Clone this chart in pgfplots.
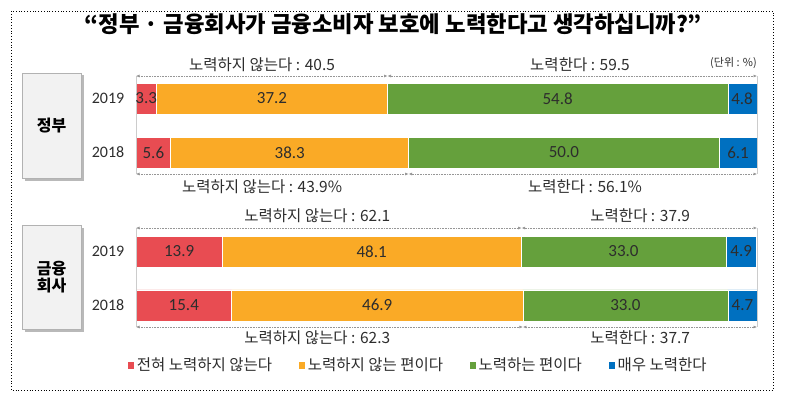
\documentclass[border=0pt]{standalone}
\usepackage{pgfplots}
\pgfplotsset{compat=1.18}
\usepackage{pgfplotstable}
\usepackage{fontspec}
\setmainfont{Noto Sans CJK KR}
\newfontfamily\num{Carlito}
\usetikzlibrary{arrows.meta,shadows}
\definecolor{cRed}{RGB}{232,76,82}
\definecolor{cOra}{RGB}{250,170,38}
\definecolor{cGre}{RGB}{101,160,60}
\definecolor{cBlu}{RGB}{0,112,192}
\definecolor{txt}{RGB}{45,45,45}
\definecolor{dim}{RGB}{150,150,150}

\pgfplotstableread{
y red orange green blue
98.5 3.3 37.2 54.8 4.8
152.5 5.6 38.3 50.0 6.1
251.5 13.9 48.1 33.0 4.9
305.3 15.4 46.9 33.0 4.7
}\data

\pgfplotstableread{
x y lab
1.65 98.5 3.3
21.9 98.5 37.2
67.9 98.5 54.8
97.6 98.5 4.8
2.8 152.5 5.6
24.75 152.5 38.3
68.9 152.5 50.0
96.95 152.5 6.1
6.95 251.5 13.9
37.95 251.5 48.1
78.5 251.5 33.0
97.45 251.5 4.9
7.7 305.3 15.4
38.85 305.3 46.9
78.8 305.3 33.0
97.65 305.3 4.7
}\labs

\pgfplotsset{common/.style={
  at={(136pt,-398pt)}, anchor=south west,
  scale only axis, width=621pt, height=398pt,
  xmin=0, xmax=100, ymin=0, ymax=398, y dir=reverse,
  hide axis, clip=false}}

\begin{document}
\begin{tikzpicture}
\path (0,0) rectangle (786pt,-398pt);
\draw[dotted, line width=0.8pt] (11pt,-11pt) rectangle (773pt,-390pt);
\node[font=\bfseries\fontsize{22.3}{26}\selectfont] at (393pt,-24pt) {“정부 · 금융회사가 금융소비자 보호에 노력한다고 생각하십니까?”};

\tikzset{gbox/.style={draw=gray!60, fill=gray!10, drop shadow={shadow xshift=2.5pt, shadow yshift=-2.5pt, fill=gray!55, opacity=1}}}
\draw[gbox] (22pt,-73pt) rectangle (81pt,-178pt);
\node[font=\bfseries\fontsize{16}{20}\selectfont] at (51.5pt,-125.5pt) {정부};
\draw[gbox] (22pt,-225pt) rectangle (81pt,-329pt);
\node[font=\bfseries\fontsize{16}{20}\selectfont, align=center] at (51.5pt,-277pt) {금융\\[-3pt]회사};

\foreach \yy/\yr in {98.5/2019,152.5/2018,251.5/2019,305.3/2018}{
  \node[font=\num\fontsize{16}{18}\selectfont, text=txt] at (108pt,-\yy pt) {\yr};
}

\begin{axis}[common,
  xbar stacked, bar width=31pt,
  legend columns=4,
  legend style={at={(0.454,0.083)}, anchor=center, draw=none, fill=none,
    font=\fontsize{15.5}{17}\selectfont, text=txt,
    /tikz/every even column/.append style={column sep=24pt}},
  legend image code/.code={\fill[#1] (0pt,-4pt) rectangle (7pt,4pt);},
]
\addplot[fill=cRed, draw=white, line width=0.6pt] table[x=red, y=y]{\data};
\addplot[fill=cOra, draw=white, line width=0.6pt] table[x=orange, y=y]{\data};
\addplot[fill=cGre, draw=white, line width=0.6pt] table[x=green, y=y]{\data};
\addplot[fill=cBlu, draw=white, line width=0.6pt] table[x=blue, y=y]{\data};
\legend{전혀 노력하지 않는다, 노력하지 않는 편이다, 노력하는 편이다, 매우 노력한다}
\end{axis}

\begin{axis}[common]
\addplot[draw=none, nodes near coords, point meta=explicit symbolic,
  nodes near coords style={anchor=center, font=\num\fontsize{17}{19}\selectfont, text=txt}]
  table[x=x, y=y, meta=lab]{\labs};
% frame lines
\draw[gray!40] (axis cs:0,76) -- (axis cs:0,174);
\draw[gray!40] (axis cs:100,76) -- (axis cs:100,174);
\draw[gray!40] (axis cs:0,228) -- (axis cs:0,327);
\draw[gray!40] (axis cs:100,228) -- (axis cs:100,327);
\tikzset{dl/.style={dim, line width=0.6pt, dash pattern=on 0.8pt off 0.8pt, {Latex[length=3.5pt,width=3pt]}-{Latex[length=3.5pt,width=3pt]}}}
\draw[dl] (axis cs:0,76) -- (axis cs:40.5,76);
\draw[dl] (axis cs:40.5,76) -- (axis cs:100,76);
\draw[dl] (axis cs:0,174) -- (axis cs:43.9,174);
\draw[dl] (axis cs:43.9,174) -- (axis cs:100,174);
\draw[dl] (axis cs:0,228) -- (axis cs:62.1,228);
\draw[dl] (axis cs:62.1,228) -- (axis cs:100,228);
\draw[dl] (axis cs:0,327) -- (axis cs:62.3,327);
\draw[dl] (axis cs:62.3,327) -- (axis cs:100,327);
\tikzset{dt/.style={font=\fontsize{15.5}{17}\selectfont, text=txt}}
\node[dt] at (axis cs:20.3,65) {노력하지 않는다 : 40.5};
\node[dt] at (axis cs:71.5,65) {노력한다 : 59.5};
\node[dt] at (axis cs:20.3,187) {노력하지 않는다 : 43.9\%};
\node[dt] at (axis cs:72.3,187) {노력한다 : 56.1\%};
\node[dt] at (axis cs:29.2,216) {노력하지 않는다 : 62.1};
\node[dt] at (axis cs:81.2,216) {노력한다 : 37.9};
\node[dt] at (axis cs:29.2,338) {노력하지 않는다 : 62.3};
\node[dt] at (axis cs:81.2,338) {노력한다 : 37.7};
\node[font=\fontsize{11}{12}\selectfont, text=txt, anchor=east, inner sep=0pt] at (axis cs:100,63) {(단위 : \%)};
\end{axis}
\end{tikzpicture}
\end{document}
